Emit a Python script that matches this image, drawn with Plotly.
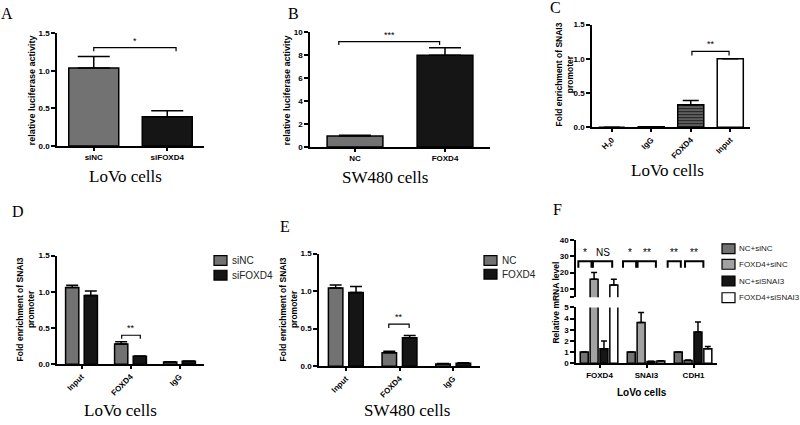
import plotly.graph_objects as go

W, H = 800, 425

# ---------------- data ----------------
a_cats = ["siNC", "siFOXD4"]
a_vals = [1.04, 0.39]
a_err = [0.15, 0.08]

b_cats = ["NC", "FOXD4"]
b_vals = [0.95, 8.0]
b_err = [0.07, 0.65]

c_cats = ["H<sub>2</sub>0", "IgG", "FOXD4", "Input"]
c_vals = [0.0, 0.01, 0.33, 1.0]
c_err = [0.0, 0.0, 0.06, 0.0]

d_cats = ["Input", "FOXD4", "IgG"]
d_series = ["siNC", "siFOXD4"]
d_sinc = [1.06, 0.28, 0.03]
d_sinc_err = [0.03, 0.03, 0.005]
d_sifoxd4 = [0.95, 0.11, 0.04]
d_sifoxd4_err = [0.06, 0.004, 0.004]

e_cats = ["Input", "FOXD4", "IgG"]
e_series = ["NC", "FOXD4"]
e_nc = [1.04, 0.18, 0.03]
e_nc_err = [0.04, 0.02, 0.004]
e_foxd4 = [0.98, 0.38, 0.04]
e_foxd4_err = [0.08, 0.03, 0.004]

f_genes = ["FOXD4", "SNAI3", "CDH1"]
f_series = ["NC+siNC", "FOXD4+siNC", "NC+siSNAI3", "FOXD4+siSNAI3"]
f_nc_sinc = [1.0, 1.0, 1.0]
f_nc_sinc_err = [0.0, 0.0, 0.0]
f_foxd4_sinc = [16.0, 3.65, 0.25]
f_foxd4_sinc_err = [4.0, 0.9, 0.04]
f_nc_sisnai3 = [1.3, 0.15, 2.8]
f_nc_sisnai3_err = [0.7, 0.03, 0.9]
f_foxd4_sisnai3 = [12.5, 0.2, 1.3]
f_foxd4_sisnai3_err = [3.5, 0.03, 0.2]

sig_a = "*"
sig_b = "***"
sig_c = "**"
sig_d = "**"
sig_e = "**"
sig_f = ["*", "NS", "*", "**", "**", "**"]

# ---------------- helpers ----------------
def xd(x0, x1):
    return [x0 / W, x1 / W]

def yd(ytop, ybot):
    return [1 - ybot / H, 1 - ytop / H]

SANS = "Liberation Sans"
SERIF = "Liberation Serif"
tickfont = dict(family=SANS, size=8, color="black", weight="bold")

def ax_style(**kw):
    d = dict(showline=True, linecolor="black", linewidth=1.5, ticks="outside",
             tickcolor="black", tickwidth=1.5, ticklen=4, showgrid=False,
             zeroline=False, tickfont=tickfont, fixedrange=True)
    d.update(kw)
    return d

def err(arr, w):
    return dict(type="data", array=arr, arrayminus=[0] * len(arr), symmetric=False,
                color="black", thickness=1.5, width=w)

GREY = "#727272"
LGREY = "#a2a2a2"
BLACK = "#151515"
OUT = dict(color="black", width=1.5)

fig = go.Figure()

# ---------------- panel A ----------------
fig.add_trace(go.Bar(x=a_cats, y=a_vals, xaxis="x", yaxis="y", width=0.68,
                     marker=dict(color=[GREY, BLACK], line=OUT),
                     error_y=err(a_err, 16), showlegend=False))
# ---------------- panel B ----------------
fig.add_trace(go.Bar(x=b_cats, y=b_vals, xaxis="x2", yaxis="y2", width=0.62,
                     marker=dict(color=[GREY, BLACK], line=OUT),
                     error_y=err(b_err, 16), showlegend=False))
# ---------------- panel C ----------------
fig.add_trace(go.Bar(x=c_cats, y=c_vals, xaxis="x3", yaxis="y3", width=0.66,
                     marker=dict(color=[GREY, GREY, "#2a2a2a", "white"], line=OUT,
                                 pattern=dict(shape=["", "", "-", ""], fgcolor="#8a8a8a",
                                              size=3, solidity=0.3)),
                     error_y=err(c_err, 8), showlegend=False))
# ---------------- panel D ----------------
for vals, e, col, off in [(d_sinc, d_sinc_err, GREY, -0.325), (d_sifoxd4, d_sifoxd4_err, BLACK, 0.055)]:
    fig.add_trace(go.Bar(x=d_cats, y=vals, xaxis="x4", yaxis="y4", width=0.27, offset=off,
                         marker=dict(color=col, line=OUT), error_y=err(e, 6), showlegend=False))
# ---------------- panel E ----------------
for vals, e, col, off in [(e_nc, e_nc_err, GREY, -0.325), (e_foxd4, e_foxd4_err, BLACK, 0.055)]:
    fig.add_trace(go.Bar(x=e_cats, y=vals, xaxis="x5", yaxis="y5", width=0.27, offset=off,
                         marker=dict(color=col, line=OUT), error_y=err(e, 6), showlegend=False))
# ---------------- panel F (broken axis) ----------------
BREAK = 5
f_data = [(f_nc_sinc, f_nc_sinc_err, GREY), (f_foxd4_sinc, f_foxd4_sinc_err, LGREY),
          (f_nc_sisnai3, f_nc_sisnai3_err, BLACK), (f_foxd4_sisnai3, f_foxd4_sisnai3_err, "white")]
f_offsets = [-0.41, -0.2, 0.01, 0.22]
for (vals, e, col), off in zip(f_data, f_offsets):
    low_err = [0 if v > BREAK else ee for v, ee in zip(vals, e)]
    fig.add_trace(go.Bar(x=f_genes, y=vals, xaxis="x6", yaxis="y6", width=0.17, offset=off,
                         marker=dict(color=col, line=OUT), error_y=err(low_err, 3), showlegend=False))
    up_vals = [v if v > BREAK else None for v in vals]
    fig.add_trace(go.Bar(x=f_genes, y=up_vals, xaxis="x6", yaxis="y7", width=0.17, offset=off,
                         marker=dict(color=col, line=OUT), error_y=err(e, 3), showlegend=False))

fig.update_layout(
    width=W, height=H, margin=dict(l=0, r=0, t=0, b=0),
    paper_bgcolor="white", plot_bgcolor="white", barmode="overlay",
    xaxis=ax_style(domain=xd(57, 204), anchor="y", type="category", range=[-0.5, 1.5], ticklen=3),
    yaxis=ax_style(domain=yd(30, 145), anchor="x", range=[0, 1.5], tickvals=[0, 0.5, 1.0, 1.5], tickformat=".1f"),
    xaxis2=ax_style(domain=xd(310, 490), anchor="y2", type="category", range=[-0.5, 1.5], ticklen=3),
    yaxis2=ax_style(domain=yd(29, 146), anchor="x2", range=[0, 10], tickvals=[0, 2, 4, 6, 8, 10]),
    xaxis3=ax_style(domain=xd(592, 750), anchor="y3", type="category", range=[-0.5, 3.5], tickangle=-45, ticklen=3),
    yaxis3=ax_style(domain=yd(21, 126), anchor="x3", range=[0, 1.5], tickvals=[0, 0.5, 1.0, 1.5], tickformat=".1f"),
    xaxis4=ax_style(domain=xd(57, 204), anchor="y4", type="category", range=[-0.5, 2.5], tickangle=-45, ticklen=3),
    yaxis4=ax_style(domain=yd(257, 368), anchor="x4", range=[0, 1.5], tickvals=[0, 0.5, 1.0, 1.5], tickformat=".1f"),
    xaxis5=ax_style(domain=xd(319, 480), anchor="y5", type="category", range=[-0.5, 2.5], tickangle=-45, ticklen=3),
    yaxis5=ax_style(domain=yd(255, 370), anchor="x5", range=[0, 1.5], tickvals=[0, 0.5, 1.0, 1.5], tickformat=".1f"),
    xaxis6=ax_style(domain=xd(576, 717), anchor="y6", type="category", range=[-0.5, 2.5], ticklen=3),
    yaxis6=ax_style(domain=yd(310, 367), anchor="x6", range=[0, 5], tickvals=[0, 1, 2, 3, 4, 5]),
    yaxis7=ax_style(domain=yd(241, 299.5), anchor="x6", range=[5, 40], tickvals=[5, 10, 20, 30, 40],
                    ticktext=["", "10", "20", "30", "40"]),
)

shapes = []
annos = []

def bracket(xref, yref, x0, x1, y, leg, width=1.2):
    shapes.append(dict(type="path", xref=xref, yref=yref,
                       path=f"M {x0},{leg} L {x0},{y} L {x1},{y} L {x1},{leg}",
                       line=dict(color="black", width=width)))

def sig(xref, yref, x, y, text, size=9):
    annos.append(dict(xref=xref, yref=yref, x=x, y=y, text=text, showarrow=False,
                      yanchor="bottom", font=dict(family=SANS, size=size, color="black")))

bracket("x", "y", 0, 1.12, 1.31, 1.26)
sig("x", "y", 0.56, 1.31, sig_a)
bracket("x2", "y2", -0.18, 0.94, 9.2, 8.9)
sig("x2", "y2", 0.38, 9.2, sig_b)
bracket("x3", "y3", 2.03, 2.97, 1.11, 1.05)
sig("x3", "y3", 2.5, 1.11, sig_c)
bracket("x4", "y4", 0.82, 1.2, 0.40, 0.35)
sig("x4", "y4", 1.01, 0.40, sig_d)
bracket("x5", "y5", 0.8, 1.18, 0.56, 0.51)
sig("x5", "y5", 0.99, 0.56, sig_e)

f_br = [(-0.45, -0.17), (-0.14, 0.27), (-0.5, -0.22), (-0.19, 0.2), (-0.55, -0.27), (-0.18, 0.21)]
f_grp = [0, 0, 1, 1, 2, 2]
for (x0, x1), g, t in zip(f_br, f_grp, sig_f):
    bracket("x6", "y7", g + x0, g + x1, 27, 23, width=2)
    sig("x6", "y7", g + (x0 + x1) / 2, 27.5, t, size=10)

def ptxt(x, y, text, size, family, angle=0, bold=False, xanchor="center", color="black"):
    annos.append(dict(xref="paper", yref="paper", x=x / W, y=1 - y / H, text=text, showarrow=False,
                      xanchor=xanchor, yanchor="middle", textangle=angle,
                      font=dict(family=family, size=size, color=color, weight="bold" if bold else "normal")))

# panel letters
for t, x, y in [("A", 7, 10), ("B", 293, 10), ("C", 555, 4), ("D", 18, 212), ("E", 285, 227), ("F", 557, 210)]:
    ptxt(x, y, t, 16, SERIF)

# captions
ptxt(125, 176, "LoVo cells", 17, SERIF)
ptxt(385, 177, "SW480 cells", 17, SERIF)
ptxt(667, 170, "LoVo cells", 17, SERIF)
ptxt(120, 415, "LoVo cells", 17, SERIF)
ptxt(407, 415, "SW480 cells", 17, SERIF)
ptxt(642, 397, "LoVo cells", 10, SANS, bold=True)

# y titles
ptxt(32, 88, "relative luciferase activity", 9, SANS, angle=-90, bold=True)
ptxt(287, 88, "relative luciferase activity", 9, SANS, angle=-90, bold=True)
ptxt(564, 72, "Fold enrichment of SNAI3<br>promoter", 8.5, SANS, angle=-90, bold=True)
ptxt(25, 312, "Fold enrichment of SNAI3<br>promoter", 8.5, SANS, angle=-90, bold=True)
ptxt(288, 312, "Fold enrichment of SNAI3<br>promoter", 8.5, SANS, angle=-90, bold=True)
ptxt(556, 305, "Relative mRNA level", 8.5, SANS, angle=-90, bold=True)

# legends
def legend(x, ys, labels, colors, size, gap):
    for y, lab, col in zip(ys, labels, colors):
        shapes.append(dict(type="rect", xref="paper", yref="paper",
                           x0=x / W, x1=(x + 13) / W, y0=1 - (y + 5) / H, y1=1 - (y - 5) / H,
                           fillcolor=col, line=dict(color="black", width=1.2)))
        ptxt(x + gap, y, lab, size, SANS, xanchor="left", color="#222")

legend(214, [262, 277], d_series, [GREY, BLACK], 10, 16)
legend(484, [262, 276], e_series, [GREY, BLACK], 10, 16)
legend(722, [250, 266, 283, 300], f_series, [GREY, LGREY, BLACK, "white"], 8, 15)

fig.update_layout(shapes=shapes, annotations=annos)
fig.write_html("out.html", config={"displayModeBar": False},
               post_script="document.body.style.margin='0';document.body.style.overflow='hidden';")
